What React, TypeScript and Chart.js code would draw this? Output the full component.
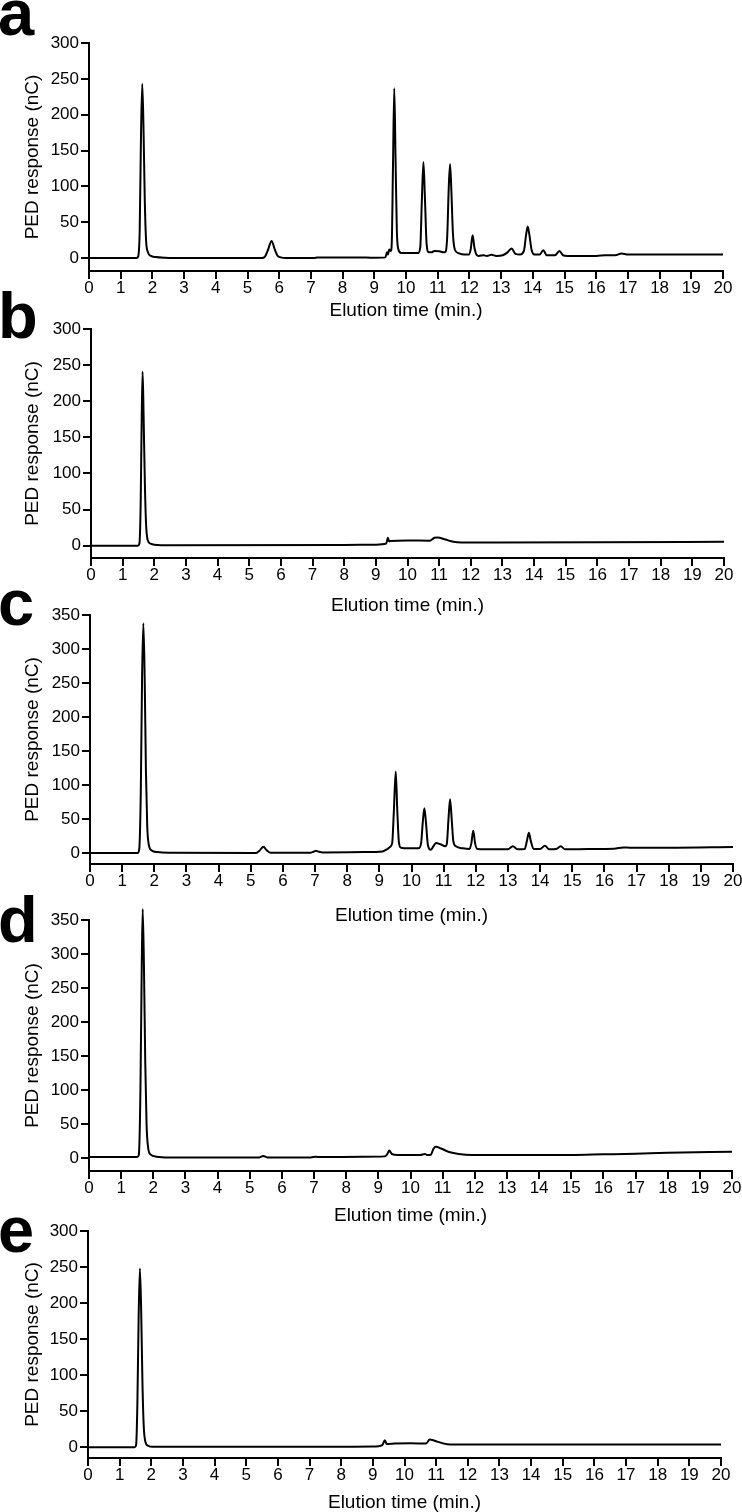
import React, { useEffect, useRef } from "react";
import { Chart, registerables } from "chart.js";

Chart.register(...registerables);
Chart.defaults.font.family = "'Liberation Sans', Arial, Helvetica, sans-serif";

// ---------- tick labels ----------
const X_TICKS = [0, 1, 2, 3, 4, 5, 6, 7, 8, 9, 10, 11, 12, 13, 14, 15, 16, 17, 18, 19, 20];
const Y_TICKS_300 = [0, 50, 100, 150, 200, 250, 300];
const Y_TICKS_350 = [0, 50, 100, 150, 200, 250, 300, 350];
const X_TITLE = "Elution time (min.)";
const Y_TITLE = "PED response (nC)";

// ---------- panel a ----------
const aTime = [0, 1.5, 1.55, 1.6, 1.64, 1.68, 1.72, 1.76, 1.8, 1.86, 1.95, 2.1, 2.4, 3.0, 5.45, 5.55, 5.65, 5.76, 5.86, 5.95, 6.05, 6.2, 7.1, 7.2, 8.5, 9.0, 9.35, 9.4, 9.43, 9.47, 9.52, 9.55, 9.59, 9.63, 9.67, 9.71, 9.76, 9.85, 10.38, 10.45, 10.5, 10.55, 10.6, 10.65, 10.72, 10.8, 10.9, 11.05, 11.2, 11.25, 11.3, 11.35, 11.39, 11.43, 11.48, 11.54, 11.65, 11.85, 11.98, 12.04, 12.1, 12.16, 12.22, 12.3, 12.45, 12.55, 12.7, 12.85, 13.05, 13.2, 13.33, 13.45, 13.6, 13.72, 13.79, 13.84, 13.89, 13.96, 14.05, 14.22, 14.33, 14.44, 14.7, 14.84, 14.95, 15.1, 16.0, 16.3, 16.6, 16.8, 17.0, 18.0, 20.0];
const aSignal = [0, 0, 2, 40, 170, 243, 180, 80, 25, 8, 3, 1.5, 0.5, 0, 0, 2, 12, 24, 12, 3, 1, 0, 0, 1, 1, 0.5, 1, 8, 5, 12, 10, 20, 130, 237, 140, 40, 12, 7, 7, 15, 80, 134, 80, 20, 8, 8, 10, 9.5, 8, 9, 30, 100, 131, 95, 35, 12, 7, 5, 5, 12, 32, 14, 5, 3, 4, 3, 4.5, 3, 4, 8, 13.5, 6, 5, 10, 33, 44, 33, 12, 5, 5, 11, 4, 4, 10, 4, 3, 3, 4, 4, 6.5, 5, 5, 5];

// ---------- panel b ----------
const bTime = [0, 1.48, 1.53, 1.57, 1.6, 1.63, 1.66, 1.7, 1.74, 1.79, 1.88, 2.0, 2.5, 8.0, 9.0, 9.33, 9.38, 9.42, 9.45, 10.0, 10.7, 10.85, 10.95, 11.2, 11.45, 11.7, 16.0, 20.0];
const bSignal = [0, 0, 3, 60, 170, 241, 185, 90, 30, 8, 3, 1.5, 0.5, 1, 1.5, 3, 11, 6, 6.5, 7.2, 7, 11, 11.5, 8.5, 5.5, 4.6, 4.8, 5.5];

// ---------- panel c ----------
const cTime = [0, 1.48, 1.53, 1.58, 1.62, 1.66, 1.7, 1.74, 1.78, 1.83, 1.92, 2.1, 2.5, 5.15, 5.28, 5.39, 5.5, 5.62, 6.85, 6.95, 7.03, 7.12, 7.25, 8.5, 9.1, 9.25, 9.33, 9.4, 9.45, 9.51, 9.56, 9.61, 9.67, 9.9, 10.22, 10.3, 10.35, 10.4, 10.45, 10.51, 10.6, 10.68, 10.76, 10.9, 11.05, 11.1, 11.15, 11.2, 11.25, 11.3, 11.38, 11.6, 11.8, 11.86, 11.92, 11.98, 12.05, 12.3, 13.0, 13.15, 13.3, 13.52, 13.59, 13.65, 13.71, 13.8, 14.0, 14.15, 14.28, 14.5, 14.64, 14.78, 15.5, 16.3, 16.59, 16.8, 18.0, 20.0];
const cSignal = [0, 0, 5, 90, 260, 338, 260, 120, 40, 12, 4, 1.5, 0.5, 0, 4, 9.3, 4, 0.5, 0.5, 2, 3.4, 2, 1, 1.5, 2.5, 6, 9, 15, 60, 120, 60, 15, 8, 7, 7, 15, 45, 66, 45, 12, 5, 10, 15, 13, 10, 14, 50, 79, 50, 18, 10, 7, 6, 14, 33, 14, 6, 5.5, 5.5, 10, 5.5, 6, 18, 30, 18, 6, 6, 11, 5.5, 6, 10, 5.5, 6, 6.5, 8.4, 8, 8, 9];

// ---------- panel d ----------
const dTime = [0, 1.5, 1.55, 1.6, 1.64, 1.67, 1.71, 1.75, 1.79, 1.84, 1.92, 2.1, 2.5, 5.3, 5.42, 5.55, 6.9, 7.05, 7.2, 8.5, 9.2, 9.28, 9.34, 9.42, 9.6, 10.3, 10.45, 10.52, 10.63, 10.72, 10.79, 10.95, 11.2, 11.5, 11.9, 15.0, 16.0, 17.0, 18.0, 20.0];
const dSignal = [1.5, 1.5, 5, 100, 280, 366, 280, 140, 50, 15, 5, 2, 1, 1, 3, 1, 1, 2, 1.5, 2, 2.5, 6, 11, 6, 4.5, 4.5, 6, 4.5, 5, 14, 16.7, 14, 9, 6, 4.5, 4.5, 5.5, 6.5, 7.8, 9.3];

// ---------- panel e ----------
const eTime = [0, 1.48, 1.52, 1.56, 1.6, 1.64, 1.68, 1.72, 1.76, 1.81, 1.9, 2.05, 5.8, 9.0, 9.3, 9.38, 9.44, 9.7, 10.2, 10.68, 10.8, 10.95, 11.2, 11.44, 20.0];
const eSignal = [0, 0, 3, 60, 180, 248, 190, 90, 30, 8, 2, 0.5, 0.5, 0.8, 2.8, 9.7, 4.5, 5, 5.3, 5, 10.6, 9, 5.5, 3.7, 3.7];

// ---------- layout (pixels) ----------
const W = 742;
const PAD_TOP = 14;
const TITLE_HALF = 11.4;

type PanelSpec = {
  letter: string;
  time: number[];
  signal: number[];
  yMin: number;
  yMax: number;
  yTicks: number[];
  left: number;
  right: number;
  top: number;
  axis: number;
  titleY: number;
  letterTop: number;
};

const PANELS: PanelSpec[] = [
  { letter: "a", time: aTime, signal: aSignal, yMin: -18, yMax: 300, yTicks: Y_TICKS_300, left: 89, right: 723, top: 43, axis: 271, titleY: 310, letterTop: -20 },
  { letter: "b", time: bTime, signal: bSignal, yMin: -17, yMax: 300, yTicks: Y_TICKS_300, left: 91, right: 724, top: 329, axis: 558, titleY: 605, letterTop: 283 },
  { letter: "c", time: cTime, signal: cSignal, yMin: -16, yMax: 350, yTicks: Y_TICKS_350, left: 90, right: 733, top: 615, axis: 864, titleY: 915, letterTop: 570 },
  { letter: "d", time: dTime, signal: dSignal, yMin: -19, yMax: 350, yTicks: Y_TICKS_350, left: 89, right: 732, top: 920, axis: 1171, titleY: 1215, letterTop: 887 },
  { letter: "e", time: eTime, signal: eSignal, yMin: -15, yMax: 300, yTicks: Y_TICKS_300, left: 88, right: 721, top: 1231, axis: 1458, titleY: 1502, letterTop: 1197 },
];

function Panel({ spec }: { spec: PanelSpec }) {
  const ref = useRef<HTMLCanvasElement | null>(null);
  const canvasTop = spec.top - PAD_TOP;
  const canvasBottom = spec.titleY + TITLE_HALF + 1;
  const height = Math.round(canvasBottom - canvasTop);

  useEffect(() => {
    if (!ref.current) return;
    const points = spec.time.map((t, i) => ({ x: t, y: spec.signal[i] }));
    const xAxisHeight = height - (spec.axis - canvasTop);
    const chart = new Chart(ref.current, {
      type: "line",
      data: {
        datasets: [
          {
            data: points,
            borderColor: "#000",
            borderWidth: 2,
            pointRadius: 0,
            fill: false,
            cubicInterpolationMode: "monotone",
            clip: false as any,
          },
        ],
      },
      options: {
        animation: false,
        responsive: false,
        devicePixelRatio: 1,
        layout: { padding: { top: PAD_TOP, right: W - spec.right, left: 0, bottom: 0 } },
        plugins: { legend: { display: false }, tooltip: { enabled: false }, title: { display: false } },
        scales: {
          x: {
            type: "linear",
            min: 0,
            max: 20,
            afterBuildTicks: (s: any) => {
              s.ticks = X_TICKS.map((v) => ({ value: v }));
            },
            afterFit: (s: any) => {
              s.height = xAxisHeight;
            },
            grid: { drawOnChartArea: false, drawTicks: true, tickLength: 8, color: "#000", lineWidth: 2 },
            border: { display: true, color: "#000", width: 2 },
            ticks: { color: "#000", font: { size: 17 }, padding: -1, maxRotation: 0, autoSkip: false },
            title: { display: true, text: X_TITLE, color: "#000", font: { size: 19, lineHeight: 1.2 }, padding: { top: 0, bottom: 0 } },
          },
          y: {
            type: "linear",
            min: spec.yMin,
            max: spec.yMax,
            afterBuildTicks: (s: any) => {
              s.ticks = spec.yTicks.map((v) => ({ value: v }));
            },
            afterFit: (s: any) => {
              s.width = spec.left;
            },
            grid: { drawOnChartArea: false, drawTicks: true, tickLength: 8, color: "#000", lineWidth: 2 },
            border: { display: true, color: "#000", width: 2 },
            ticks: { color: "#000", font: { size: 17 }, padding: 2 },
            title: { display: true, text: Y_TITLE, color: "#000", font: { size: 19, lineHeight: 1.2 }, padding: { top: 21.6, bottom: 0 } },
          },
        },
      } as any,
    });
    return () => chart.destroy();
  }, []);

  return (
    <>
      <canvas
        ref={ref}
        width={W}
        height={height}
        style={{ position: "absolute", left: 0, top: canvasTop, width: W, height }}
      />
      <div
        style={{
          position: "absolute",
          left: -2,
          top: spec.letterTop,
          fontFamily: "'Liberation Sans', Arial, sans-serif",
          fontWeight: 700,
          fontSize: 65,
          lineHeight: "65px",
          color: "#000",
        }}
      >
        {spec.letter}
      </div>
    </>
  );
}

export default function App() {
  return (
    <div style={{ position: "absolute", left: 0, top: 0, width: W, height: 1512, background: "#fff", overflow: "hidden" }}>
      {PANELS.map((p) => (
        <Panel key={p.letter} spec={p} />
      ))}
    </div>
  );
}
